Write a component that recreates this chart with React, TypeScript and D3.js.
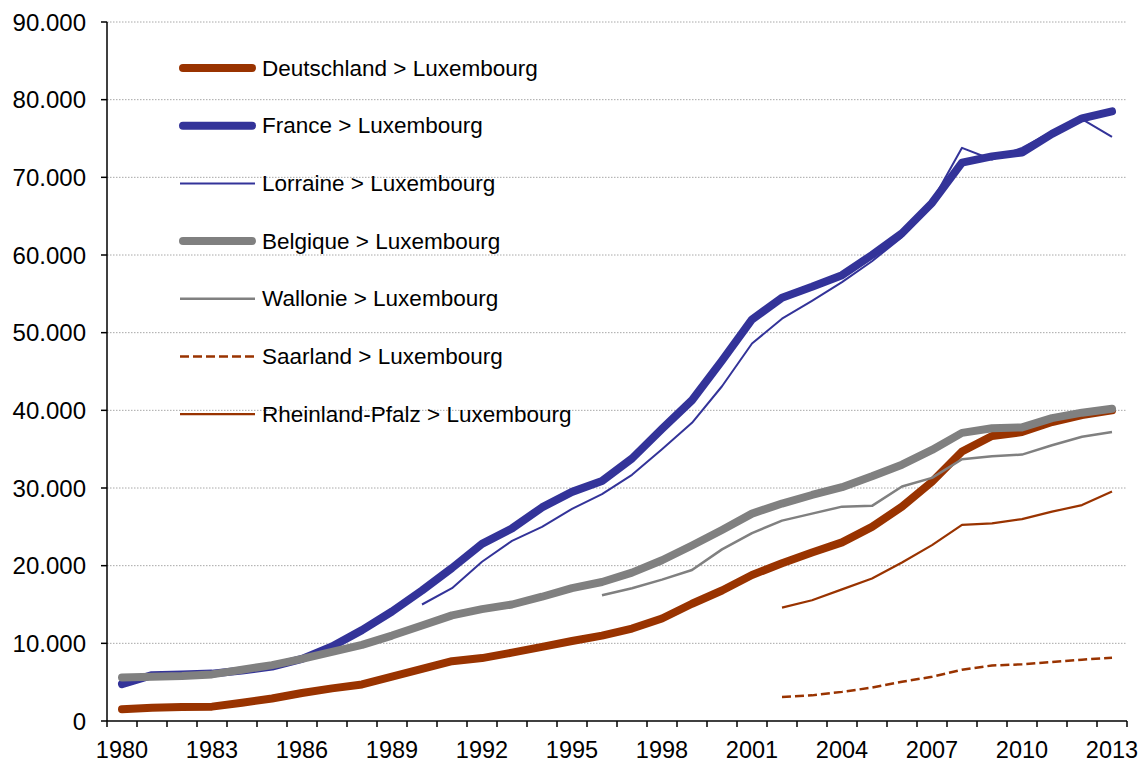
import React from 'react';
import * as d3 from 'd3';

const years = d3.range(1980, 2014);
const yTicks = d3.range(0, 90001, 10000);

const deutschland = [
    1500, 1700, 1800, 1850, 2350, 2900, 3600, 4200, 4700, 5700, 6700, 7700, 8100, 8800, 9550, 10300, 11000,
    11900, 13200, 15100, 16800, 18800, 20300, 21700, 23000, 25000, 27600, 30800, 34700, 36700, 37200, 38500,
    39400, 40000,
];
const france = [
    4750, 5900, 6000, 6100, 6500, 7000, 8000, 9600, 11700, 14100, 16800, 19700, 22800, 24800, 27500, 29500,
    30900, 33800, 37600, 41300, 46400, 51700, 54500, 55900, 57400, 60000, 62800, 66700, 71900, 72700, 73200,
    75600, 77600, 78500,
];
// Lorraine from 1990
const lorraine = [
    15000, 17100, 20500, 23200, 25000, 27300, 29200, 31700, 35000, 38400, 43100, 48600, 51800, 54100, 56500,
    59200, 62300, 66900, 73800, 72300, 73800, 75900, 77500, 75200,
];
const belgique = [
    5600, 5700, 5800, 6000, 6600, 7200, 8000, 8900, 9800, 11000, 12300, 13600, 14400, 15000, 16000, 17100,
    17900, 19100, 20700, 22600, 24600, 26700, 28000, 29100, 30100, 31500, 33000, 34900, 37100, 37700, 37800,
    39000, 39700, 40200,
];
// Wallonie from 1996
const wallonie = [
    16200, 17100, 18200, 19450, 22100, 24200, 25800, 26700, 27600, 27700, 30200, 31300, 33700, 34100, 34300,
    35500, 36600, 37200,
];
// Saarland and Rheinland-Pfalz from 2002
const saarland = [3100, 3300, 3750, 4300, 5050, 5700, 6600, 7150, 7300, 7600, 7900, 8150];
const rheinlandPfalz = [14600, 15550, 16950, 18350, 20400, 22650, 25250, 25450, 26000, 26950, 27800, 29550];

const BROWN = '#993300';
const BLUE = '#333399';
const GRAY = '#808080';

const series = [
    { name: 'Deutschland > Luxembourg', start: 1980, values: deutschland, color: BROWN, width: 8, dash: null },
    { name: 'France > Luxembourg', start: 1980, values: france, color: BLUE, width: 8, dash: null },
    { name: 'Lorraine > Luxembourg', start: 1990, values: lorraine, color: BLUE, width: 2, dash: null },
    { name: 'Belgique > Luxembourg', start: 1980, values: belgique, color: GRAY, width: 8, dash: null },
    { name: 'Wallonie > Luxembourg', start: 1996, values: wallonie, color: GRAY, width: 2.5, dash: null },
    { name: 'Saarland > Luxembourg', start: 2002, values: saarland, color: BROWN, width: 2.5, dash: '9,4' },
    { name: 'Rheinland-Pfalz > Luxembourg', start: 2002, values: rheinlandPfalz, color: BROWN, width: 2.2, dash: null },
];

const fmt = d3
    .formatLocale({ decimal: ',', thousands: '.', grouping: [3], currency: ['', '€'] })
    .format(',');

const FONT = '"Liberation Sans", Arial, sans-serif';

export default function App() {
    const width = 1144;
    const height = 762;
    const left = 107;
    const right = 1127;
    const top = 22;
    const bottom = 721;

    const x = d3.scaleBand().domain(years.map(String)).range([left, right]).padding(0);
    const bw = x.bandwidth();
    const cx = yr => x(String(yr)) + bw / 2;
    const y = d3.scaleLinear().domain([0, 90000]).range([bottom, top]);

    const line = start =>
        d3
            .line()
            .x((d, i) => cx(start + i))
            .y(d => y(d));

    const tickXs = years.map(yr => x(String(yr))).concat([right]);

    return (
        <svg
            width={width}
            height={height}
            style={{ position: 'absolute', left: 0, top: 0, background: '#fff' }}
            fontFamily={FONT}
        >
            <g>
                {yTicks.slice(1).map(t => (
                    <line
                        key={t}
                        x1={left}
                        x2={right}
                        y1={y(t)}
                        y2={y(t)}
                        stroke="#a8a8a8"
                        strokeWidth={1}
                        strokeDasharray="1.5,1.5"
                    />
                ))}
            </g>
            <g>
                {yTicks.map(t => (
                    <g key={t}>
                        <line x1={left - 6} x2={left} y1={y(t)} y2={y(t)} stroke="#000" strokeWidth={1.5} />
                        <text x={86} y={y(t)} textAnchor="end" dominantBaseline="central" fontSize={24} fill="#000">
                            {fmt(t)}
                        </text>
                    </g>
                ))}
            </g>
            <g>
                {tickXs.map((tx, i) => (
                    <line key={i} x1={tx} x2={tx} y1={bottom} y2={bottom + 6} stroke="#000" strokeWidth={1.5} />
                ))}
                {years
                    .filter(yr => (yr - 1980) % 3 === 0)
                    .map(yr => (
                        <text key={yr} x={cx(yr)} y={758} textAnchor="middle" fontSize={23.5} fill="#000">
                            {yr}
                        </text>
                    ))}
            </g>
            <line x1={left} x2={left} y1={top} y2={bottom} stroke="#000" strokeWidth={1.5} />
            <line x1={left} x2={right} y1={bottom} y2={bottom} stroke="#000" strokeWidth={1.5} />

            <g>
                {series.map(s => (
                    <path
                        key={s.name}
                        d={line(s.start)(s.values)}
                        fill="none"
                        stroke={s.color}
                        strokeWidth={s.width}
                        strokeLinecap={s.width > 4 ? 'round' : 'butt'}
                        strokeLinejoin="round"
                        strokeDasharray={s.dash || undefined}
                    />
                ))}
            </g>

            <g>
                {series.map((s, i) => {
                    const ly = 68 + i * 57.7;
                    return (
                        <g key={s.name}>
                            <line
                                x1={s.width > 4 ? 183 : 180}
                                x2={s.width > 4 ? 252 : 255}
                                y1={ly}
                                y2={ly}
                                stroke={s.color}
                                strokeWidth={s.width}
                                strokeLinecap={s.width > 4 ? 'round' : 'butt'}
                                strokeDasharray={s.dash || undefined}
                            />
                            <text x={262} y={ly} dominantBaseline="central" fontSize={22.5} fill="#000">
                                {s.name}
                            </text>
                        </g>
                    );
                })}
            </g>
        </svg>
    );
}
